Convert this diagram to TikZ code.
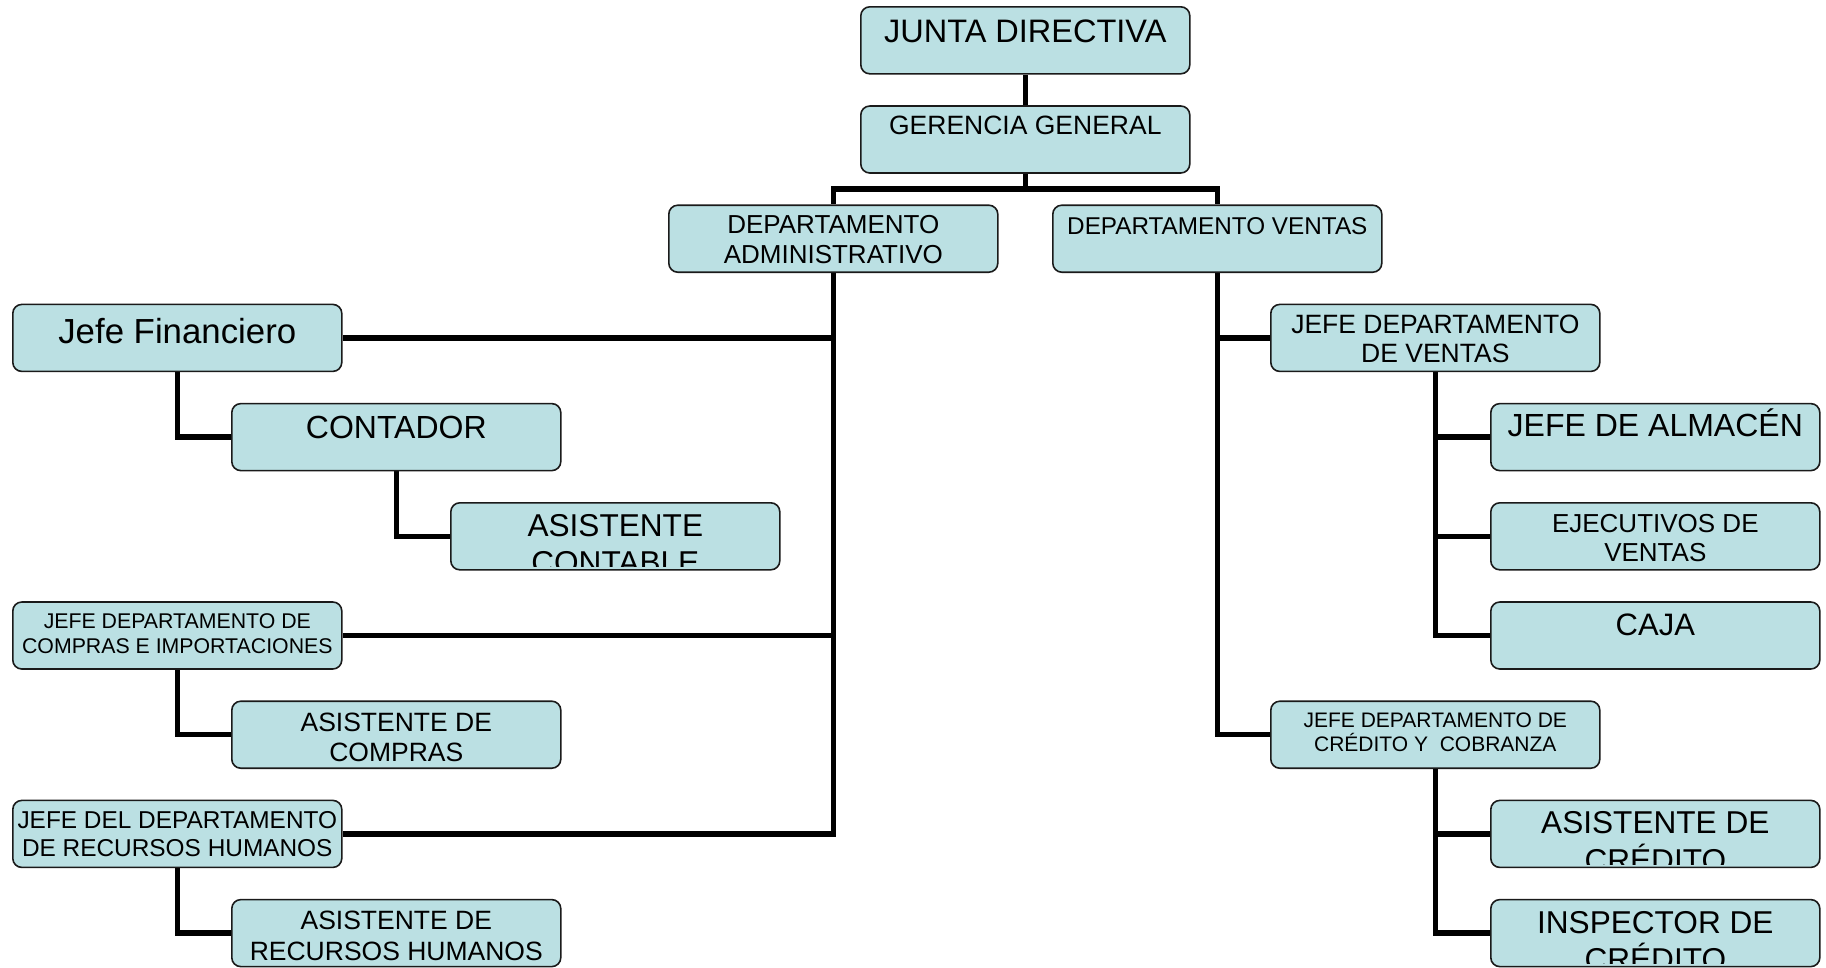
\documentclass[tikz,border=0pt]{standalone}
\usepackage{fontspec}
\setmainfont{Liberation Sans}
\usetikzlibrary{backgrounds}
\definecolor{boxfill}{HTML}{BBE0E3}
\definecolor{boxline}{HTML}{1A1A1A}
\tikzset{
  orgbox/.style={draw=boxline, line width=1.6pt, fill=boxfill, rounded corners=9pt,
    minimum width=329pt, minimum height=67pt, inner sep=0pt, anchor=north west},
  orgtext/.style={anchor=north, inner sep=0pt, align=center, text=black},
  link/.style={line width=5.5pt, line join=miter, draw=black}
}
% #1 name, #2 left x, #3 top y, #4 font size, #5 baselineskip, #6 cap offset, #7 text
\newcommand\orgnode[7]{%
  \node[orgbox] (#1) at (#2,#3) {};
  \begin{scope}
    \clip ([yshift=4pt]#1.south west) rectangle (#1.north east);
    \node[orgtext, font=\fontsize{#4}{#5}\selectfont] (#1-t) at ([yshift=-#6pt]#1.north) {#7};
  \end{scope}}
\begin{document}
\begin{tikzpicture}[x=1pt,y=-1pt]
\useasboundingbox (0,0) rectangle (1826,967);
% rows: 6, 105.2, 204.4, 303.6, 402.8, 502, 601.2, 700.4, 799.6, 898.8
\orgnode{junta}{860}{6}{32.5}{37}{14}{JUNTA DIRECTIVA}
\orgnode{geren}{860}{105.2}{26.5}{30.5}{11}{GERENCIA GENERAL}
\orgnode{dadmin}{668}{204.4}{26}{29.9}{11}{DEPARTAMENTO\\ADMINISTRATIVO}
\orgnode{dventas}{1052}{204.4}{24.3}{28}{13}{DEPARTAMENTO VENTAS}
\orgnode{jfin}{12}{303.6}{34.8}{40}{14}{Jefe Financiero}
\orgnode{conta}{231}{402.8}{32}{36.8}{13}{CONTADOR}
\orgnode{asicont}{450}{502}{31.6}{37.5}{12}{ASISTENTE\\CONTABLE}
\orgnode{jcompras}{12}{601.2}{21.3}{25.2}{12}{JEFE DEPARTAMENTO DE\\COMPRAS E IMPORTACIONES}
\orgnode{asicomp}{231}{700.4}{26.5}{30.5}{12}{ASISTENTE DE\\COMPRAS}
\orgnode{jrrhh}{12}{799.6}{24.4}{27.4}{12}{JEFE DEL DEPARTAMENTO\\DE RECURSOS HUMANOS}
\orgnode{asirrhh}{231}{898.8}{26.5}{30.5}{12}{ASISTENTE DE\\RECURSOS HUMANOS}
\orgnode{jventas}{1270}{303.6}{26.5}{29.5}{11}{JEFE DEPARTAMENTO\\DE VENTAS}
\orgnode{almacen}{1490}{402.8}{32}{36.8}{11}{JEFE DE ALMAC\smash{É}N}
\orgnode{ejec}{1490}{502}{26}{29.5}{12}{EJECUTIVOS DE\\VENTAS}
\orgnode{caja}{1490}{601.2}{31}{35.6}{12}{CAJA}
\orgnode{jcred}{1270}{700.4}{21}{24.5}{12}{JEFE DEPARTAMENTO DE\\CRÉDITO Y~ COBRANZA}
\orgnode{asicred}{1490}{799.6}{31.6}{37.5}{12}{ASISTENTE DE\\CRÉDITO}
\orgnode{inspec}{1490}{898.8}{31.6}{37.5}{12}{INSPECTOR DE\\CRÉDITO}
\begin{scope}[on background layer]
  \fill[white] (0,0) rectangle (1826,967);
  \draw[link] (junta.south) -- (geren.north);
  \draw[link] (geren.south) -- ++(0,15) -| (dadmin.north);
  \draw[link] (geren.south) -- ++(0,15) -| (dventas.north);
  \draw[link] (dadmin.south) |- (jfin.east);
  \draw[link] (dadmin.south) |- (jcompras.east);
  \draw[link] (dadmin.south) |- (jrrhh.east);
  \draw[link] (jfin.south) |- (conta.west);
  \draw[link] (conta.south) |- (asicont.west);
  \draw[link] (jcompras.south) |- (asicomp.west);
  \draw[link] (jrrhh.south) |- (asirrhh.west);
  \draw[link] (dventas.south) |- (jventas.west);
  \draw[link] (dventas.south) |- (jcred.west);
  \draw[link] (jventas.south) |- (almacen.west);
  \draw[link] (jventas.south) |- (ejec.west);
  \draw[link] (jventas.south) |- (caja.west);
  \draw[link] (jcred.south) |- (asicred.west);
  \draw[link] (jcred.south) |- (inspec.west);
\end{scope}
\end{tikzpicture}
\end{document}
